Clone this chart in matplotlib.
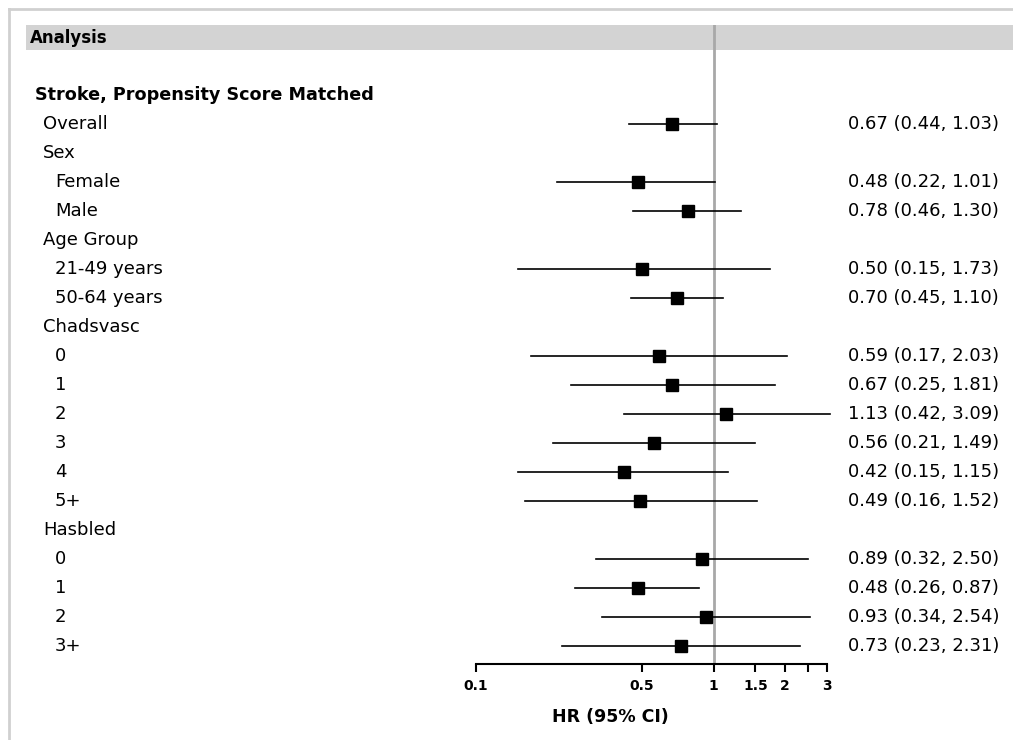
import matplotlib
matplotlib.use("Agg")
import matplotlib.pyplot as plt
import matplotlib.transforms as mtrans
from matplotlib.ticker import FixedLocator, FixedFormatter, NullLocator
from matplotlib.patches import Rectangle
from matplotlib.lines import Line2D

# rows of the forest plot; None marks a header row without an estimate
labels = ["Stroke, Propensity Score Matched", "Overall", "Sex", "Female", "Male",
          "Age Group", "21-49 years", "50-64 years", "Chadsvasc",
          "0", "1", "2", "3", "4", "5+", "Hasbled", "0", "1", "2", "3+"]
indent = [0, 1, 1, 2, 2, 1, 2, 2, 1, 2, 2, 2, 2, 2, 2, 1, 2, 2, 2, 2]
hr = [None, 0.67, None, 0.48, 0.78, None, 0.50, 0.70, None,
      0.59, 0.67, 1.13, 0.56, 0.42, 0.49, None, 0.89, 0.48, 0.93, 0.73]
lower = [None, 0.44, None, 0.22, 0.46, None, 0.15, 0.45, None,
         0.17, 0.25, 0.42, 0.21, 0.15, 0.16, None, 0.32, 0.26, 0.34, 0.23]
upper = [None, 1.03, None, 1.01, 1.30, None, 1.73, 1.10, None,
         2.03, 1.81, 3.09, 1.49, 1.15, 1.52, None, 2.50, 0.87, 2.54, 2.31]

xticks = [0.1, 0.5, 1, 1.5, 2, 2.5, 3]
xticklabels = ["0.1", "0.5", "1", "1.5", "2", "", "3"]

W, H = 1013, 740
fig = plt.figure(figsize=(W / 100, H / 100), dpi=100)


def fx(px):
    return px / W


def fy(py):
    return 1 - py / H


# outer light frame and header band
fig.add_artist(Line2D([fx(9), fx(9)], [fy(9), 0], color="#d0d0d0", lw=2))
fig.add_artist(Line2D([fx(9), 1], [fy(9), fy(9)], color="#d0d0d0", lw=2))
fig.add_artist(Rectangle((fx(26), fy(50)), 1 - fx(26), fy(25) - fy(50),
                         color="#d3d3d3", lw=0, zorder=0))
fig.text(fx(30), fy(38), "Analysis", fontsize=12, fontweight="bold", va="center")

# plot axes: x 0.1..3 at px 476..827, top px 25, bottom px 664
y0, step = 95, 29.0
top_px, bot_px = 25, 664
ax = fig.add_axes([fx(476), fy(bot_px), fx(827) - fx(476), fy(top_px) - fy(bot_px)])
ax.patch.set_alpha(0)
ax.set_xscale("log")
ax.set_xlim(0.1, 3)
ax.set_ylim((bot_px - y0) / step, (top_px - y0) / step)
for s in ["top", "right", "left"]:
    ax.spines[s].set_visible(False)
ax.spines["bottom"].set_linewidth(1.5)
ax.set_yticks([])
ax.xaxis.set_major_locator(FixedLocator(xticks))
ax.xaxis.set_major_formatter(FixedFormatter(xticklabels))
ax.xaxis.set_minor_locator(NullLocator())
ax.tick_params(axis="x", length=6, width=1.5, labelsize=10, pad=5)
for t in ax.get_xticklabels():
    t.set_fontweight("bold")

ax.axvline(1, color="#a8a8a8", lw=2, zorder=1)

for i in range(len(labels)):
    if hr[i] is None:
        continue
    ax.plot([lower[i], upper[i]], [i, i], color="black", lw=1.2, clip_on=False, zorder=2)
    ax.plot(hr[i], i, marker="s", color="black", markersize=9, zorder=3)

# left label column and right estimate column
blend = mtrans.blended_transform_factory(fig.transFigure, ax.transData)
indent_px = {0: 35, 1: 43, 2: 55}
for i, lab in enumerate(labels):
    bold = indent[i] == 0
    fig.text(fx(indent_px[indent[i]]), i, lab, transform=blend, va="center",
             fontsize=12.7 if bold else 13, fontweight="bold" if bold else "normal")
    if hr[i] is not None:
        fig.text(fx(848), i, f"{hr[i]:.2f} ({lower[i]:.2f}, {upper[i]:.2f})",
                 transform=blend, va="center", fontsize=13)

fig.text(fx(610), fy(717), "HR (95% CI)", fontsize=12.5, fontweight="bold",
         ha="center", va="center")

fig.savefig("out.png", dpi=100)
